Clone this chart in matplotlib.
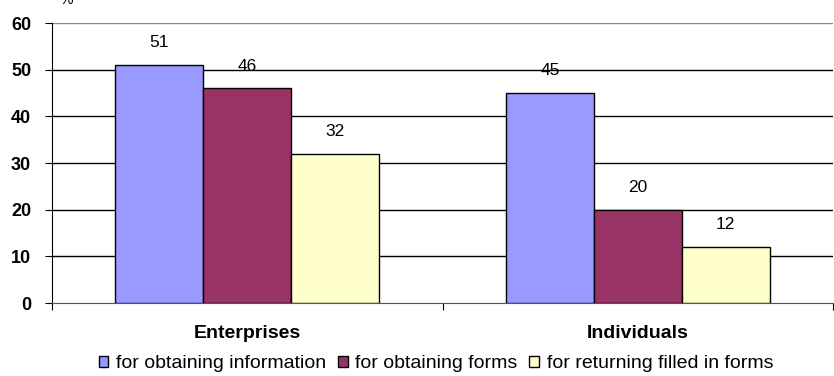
import numpy as np
import matplotlib
matplotlib.use("Agg")
import matplotlib.pyplot as plt
from matplotlib.patches import Patch

plt.rcParams['font.family'] = ['Liberation Sans', 'DejaVu Sans']

categories = ['Enterprises', 'Individuals']
series_names = ['for obtaining information', 'for obtaining forms',
                'for returning filled in forms']
info_vals = [51, 45]
forms_vals = [46, 20]
return_vals = [32, 12]
colors = ['#9999FF', '#993366', '#FFFFCC']

fig = plt.figure(figsize=[8.34, 3.76], dpi=100)
ax = fig.add_axes([52 / 834, 73 / 376, 1 - 52 / 834 - 0.001, 280 / 376])

x = np.arange(len(categories))
width = 0.225
all_vals = [info_vals, forms_vals, return_vals]
for k, vals in enumerate(all_vals):
    pos = x + (k - 1) * width
    ax.bar(pos, vals, width, color=colors[k], edgecolor='black', linewidth=1.0, zorder=3)
    for p, v in zip(pos, vals):
        ax.annotate(str(v), (p, v), xytext=(0, 16), textcoords='offset points',
                    ha='center', va='center', fontsize=12.5)

ax.set_xlim(-0.5, len(categories) - 0.5)
ax.set_ylim(0, 60)
ax.set_yticks(range(0, 61, 10))
ax.set_yticklabels([str(t) for t in range(0, 61, 10)], fontsize=13, fontweight='bold')
for t in range(10, 61, 10):
    ax.axhline(t, color='black' if t < 60 else '#888888', linewidth=1.0, zorder=1)

# category labels sit between boundary ticks
ax.set_xticks(np.arange(-0.5, len(categories), 1.0))
ax.set_xticklabels([])
ax.tick_params(axis='x', length=5, direction='out')
ax.tick_params(axis='y', length=5, direction='out', pad=10)
for i, c in enumerate(categories):
    ax.text(i, -0.11, c, transform=ax.get_xaxis_transform(), ha='center', va='center',
            fontsize=14, fontweight='bold')

ax.spines['top'].set_visible(False)
ax.spines['right'].set_visible(False)
ax.spines['left'].set_color('black')
ax.spines['bottom'].set_color('#555555')

handles = [Patch(facecolor=colors[k], edgecolor='black', label=series_names[k]) for k in range(3)]
fig.legend(handles=handles, loc='center', bbox_to_anchor=(436 / 834, 1 - 364 / 376), ncol=3,
           frameon=False, fontsize=14, handlelength=0.5, handleheight=0.5,
           handletextpad=0.4, columnspacing=0.6, borderpad=0)

fig.text(60 / 834, 1.0, '%', ha='left', va='center', fontsize=11)

fig.savefig('out.png', dpi=100)
